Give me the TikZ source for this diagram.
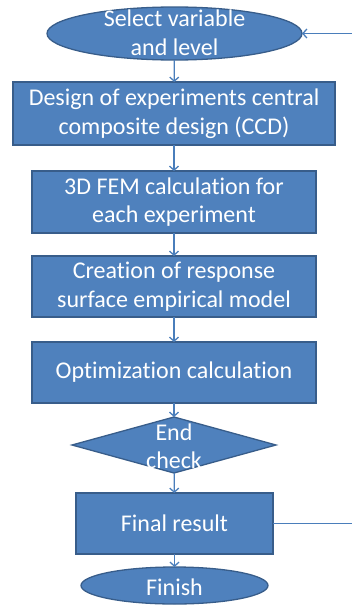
\documentclass[tikz,border=0pt]{standalone}
\usepackage{fontspec}
\setmainfont[Ligatures=NoCommon]{Carlito}
\usetikzlibrary{shapes.geometric,arrows.meta}
\definecolor{boxfill}{HTML}{4F81BD}
\definecolor{boxline}{HTML}{385D8A}
\definecolor{arrowc}{HTML}{4A7EBB}
\tikzset{
  shp/.style={draw=boxline, fill=boxfill, line width=1.3pt, inner sep=0pt, outer sep=0pt},
  procbox/.style={shp, rectangle, align=center, text=white, font=\fontsize{24}{28.5}\selectfont},
  ovalshape/.style={shp, ellipse},
  decshape/.style={shp, diamond},
  lbl/.style={text=white, align=center, inner sep=0pt, font=\fontsize{24}{28.5}\selectfont},
  flow/.style={draw=arrowc, line width=1.3pt, -{Straight Barb[length=4pt,width=9pt]}},
  plain/.style={draw=arrowc, line width=1.3pt}
}
\begin{document}
\begin{tikzpicture}[x=1pt,y=-1pt]
\useasboundingbox (0,0) rectangle (352,605);
\node[ovalshape, minimum width=255pt, minimum height=53pt] (sel) at (174.5,33.5) {};
\node[lbl] (seltxt) at (174.5,33) {Select variable\\and level};
\node[procbox, minimum width=322pt, minimum height=63pt] (doe) at (174,113.5) {Design of experiments central\\composite design (CCD)};
\node[procbox, minimum width=284pt, minimum height=62pt] (fem) at (174,202) {3D FEM calculation for\\each experiment};
\node[procbox, minimum width=284pt, minimum height=61pt] (rsm) at (174,286.5) {Creation of response\\surface empirical model};
\node[procbox, minimum width=284pt, minimum height=61pt] (opt) at (174,372.5) {Optimization calculation};
\node[decshape, minimum width=204pt, minimum height=56pt] (chk) at (174,445) {};
\node[lbl] (chktxt) at (174,446) {End\\check};
\node[procbox, minimum width=197pt, minimum height=61pt] (fin) at (174.5,523.5) {Final result};
\node[ovalshape, minimum width=187pt, minimum height=37pt] (end) at (174.5,585.5) {};
\node[lbl] (endtxt) at (174.5,587) {Finish};
\coordinate (rb) at (352,523.5);
\coordinate (rt) at (352,33.5);
\draw[flow] (sel) -- (doe);
\draw[flow] (doe) -- (fem);
\draw[flow] (fem) -- (rsm);
\draw[flow] (rsm) -- (opt);
\draw[flow] (opt) -- (chk);
\draw[flow] (chk) -- (fin);
\draw[flow] (fin) -- (end);
\draw[plain] (fin.east) -- (rb);
\draw[flow] (rt) -- (sel.east);
\end{tikzpicture}
\end{document}
